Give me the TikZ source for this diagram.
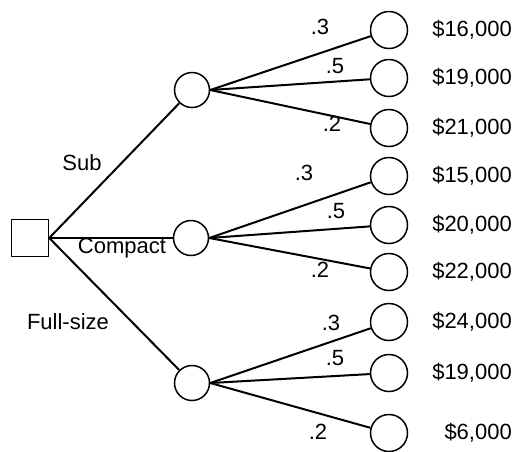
\documentclass[tikz,border=0pt]{standalone}
\usepackage{fontspec}
\setmainfont{Liberation Sans}
\usetikzlibrary{positioning}

\begin{document}
\begin{tikzpicture}[x=1pt, y=-1pt, font=\fontsize{22}{25}\selectfont,
    decision/.style={draw, rectangle, line width=1.5pt, minimum size=37pt, inner sep=0pt},
    chance/.style={draw, circle, line width=1.5pt, minimum size=35pt, inner sep=0pt},
    outcome/.style={draw, circle, line width=1.5pt, minimum size=37pt, inner sep=0pt},
    branch/.style={line width=2pt},
    payoff/.style={anchor=east, inner sep=0pt},
    prob/.style={inner sep=0pt}]
    \useasboundingbox (0,0) rectangle (519,451);

    % decision and chance nodes
    \node[decision] (car) at (30,238) {};
    \node[chance] (sub) at (192,90) {};
    \node[chance] (compact) at (191,238) {};
    \node[chance] (full) at (192,383) {};

    % end nodes
    \node[outcome] (sub-a) at (389,30) {};
    \node[outcome] (sub-b) at (389,78) {};
    \node[outcome] (sub-c) at (389,128) {};
    \node[outcome] (compact-a) at (389,176) {};
    \node[outcome] (compact-b) at (389,225) {};
    \node[outcome] (compact-c) at (389,272) {};
    \node[outcome] (full-a) at (389,322) {};
    \node[outcome] (full-b) at (389,373) {};
    \node[outcome] (full-c) at (389,433) {};

    % payoffs
    \node[payoff] (pay-sub-a) at (512,30) {\$16,000};
    \node[payoff] (pay-sub-b) at (512,78) {\$19,000};
    \node[payoff] (pay-sub-c) at (512,128) {\$21,000};
    \node[payoff] (pay-compact-a) at (512,176) {\$15,000};
    \node[payoff] (pay-compact-b) at (512,225) {\$20,000};
    \node[payoff] (pay-compact-c) at (512,272) {\$22,000};
    \node[payoff] (pay-full-a) at (512,322) {\$24,000};
    \node[payoff] (pay-full-b) at (512,373) {\$19,000};
    \node[payoff] (pay-full-c) at (512,433) {\$6,000};

    % branches
    \draw[branch] (car.east) -- (sub);
    \draw[branch] (car.east) -- (compact);
    \draw[branch] (car.east) -- (full);
    \foreach \c in {sub, compact, full}
        \foreach \o in {a, b, c}
            \draw[branch] (\c.east) -- (\c-\o);

    % branch labels
    \node (lab-sub) at (82,163) {Sub};
    \node (lab-compact) at (122,248) {Compact};
    \node (lab-full) at (68,322) {Full-size};

    % probabilities
    \node[prob] (p-sub-a) at (320,27) {.3};
    \node[prob] (p-sub-b) at (335,66) {.5};
    \node[prob] (p-sub-c) at (332,124) {.2};
    \node[prob] (p-compact-a) at (304,173) {.3};
    \node[prob] (p-compact-b) at (336,211) {.5};
    \node[prob] (p-compact-c) at (320,270) {.2};
    \node[prob] (p-full-a) at (331,323) {.3};
    \node[prob] (p-full-b) at (335,358) {.5};
    \node[prob] (p-full-c) at (318,432) {.2};
\end{tikzpicture}
\end{document}
